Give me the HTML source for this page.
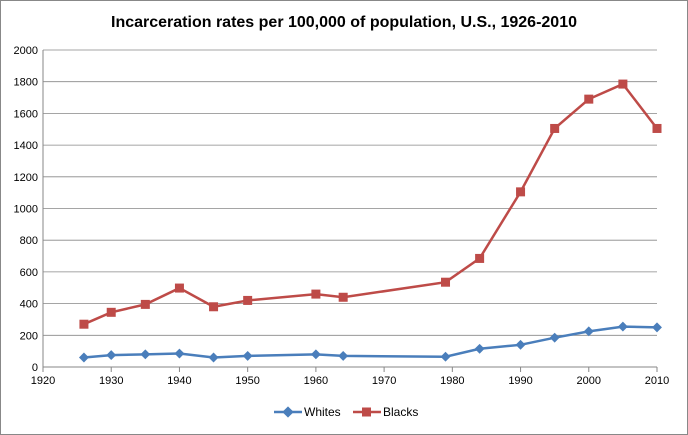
<!DOCTYPE html>
<html><head><meta charset="utf-8"><style>
body{margin:0;background:#fff;}
svg{display:block;font-family:"Liberation Sans",Arial,sans-serif;}
</style></head><body>
<svg id="chart" width="688" height="435">
<rect x="0.5" y="0.5" width="687" height="434" fill="#fff" stroke="#888"/>
<text x="344" y="27" text-anchor="middle" font-size="16" font-weight="bold" fill="#000">Incarceration rates per 100,000 of population, U.S., 1926-2010</text>
<g id="grid"></g><g id="axes"></g><g id="series"></g>
<g>
<line x1="274" y1="412" x2="302" y2="412" stroke="#4a7ebb" stroke-width="2.5"/>
<rect x="284" y="408" width="8" height="8" fill="#4a7ebb" transform="rotate(45 288 412)"/>
<text x="304" y="416" font-size="12">Whites</text>
<line x1="353" y1="412" x2="381" y2="412" stroke="#be4b48" stroke-width="2.5"/>
<rect x="362" y="407.5" width="9" height="9" fill="#be4b48"/>
<text x="383" y="416" font-size="12">Blacks</text>
</g>
</svg>
<script>
const years=[1926,1930,1935,1940,1945,1950,1960,1964,1979,1984,1990,1995,2000,2005,2010];
const whites=[60,75,80,85,60,70,80,70,65,115,140,185,225,255,250];
const blacks=[270,345,395,498,380,420,460,440,535,685,1105,1505,1690,1785,1505];
const xTicks=[1920,1930,1940,1950,1960,1970,1980,1990,2000,2010];
const yTicks=[0,200,400,600,800,1000,1200,1400,1600,1800,2000];
const X0=43,X1=657,Y0=367,Y1=50;
const xs=v=>X0+(v-1920)/(2010-1920)*(X1-X0);
const ys=v=>Y0-(v/2000)*(Y0-Y1);
const NS="http://www.w3.org/2000/svg";
function mk(t,a,p){const e=document.createElementNS(NS,t);for(const k in a)e.setAttribute(k,a[k]);p.appendChild(e);return e;}
const grid=document.getElementById('grid'),axes=document.getElementById('axes'),ser=document.getElementById('series');
yTicks.forEach(v=>{
 const l=mk('line',{x1:X0,x2:X1,y1:ys(v),y2:ys(v),stroke:'#878787','stroke-width':v?0.8:1},grid);
 
 
 const t=mk('text',{x:X0-5,y:ys(v)+4,'text-anchor':'end','font-size':11},axes);t.textContent=v;
 
 
});
mk('line',{x1:X0,x2:X0,y1:Y1,y2:Y0,stroke:'#878787'},axes);
xTicks.forEach(v=>{
 mk('line',{x1:xs(v),x2:xs(v),y1:Y0,y2:Y0+5,stroke:'#878787'},axes);
 const t=mk('text',{x:xs(v),y:Y0+17,'text-anchor':'middle','font-size':11},axes);t.textContent=v;
 
 
});
function draw(vals,color,name,square){
 const p=mk('polyline',{points:years.map((y,i)=>xs(y)+','+ys(vals[i])).join(' '),fill:'none',stroke:color,'stroke-width':2.5},ser);
 
 
 years.forEach((y,i)=>{
  const cx=xs(y),cy=ys(vals[i]);
  let m;
  if(square)m=mk('rect',{x:cx-4.5,y:cy-4.5,width:9,height:9,fill:color},ser);
  else m=mk('rect',{x:cx-3.5,y:cy-3.5,width:7,height:7,fill:color,transform:`rotate(45 ${cx} ${cy})`},ser);
  
  
 });
}
draw(blacks,'#be4b48','blacks',true);
draw(whites,'#4a7ebb','whites',false);
</script>
</body></html>
